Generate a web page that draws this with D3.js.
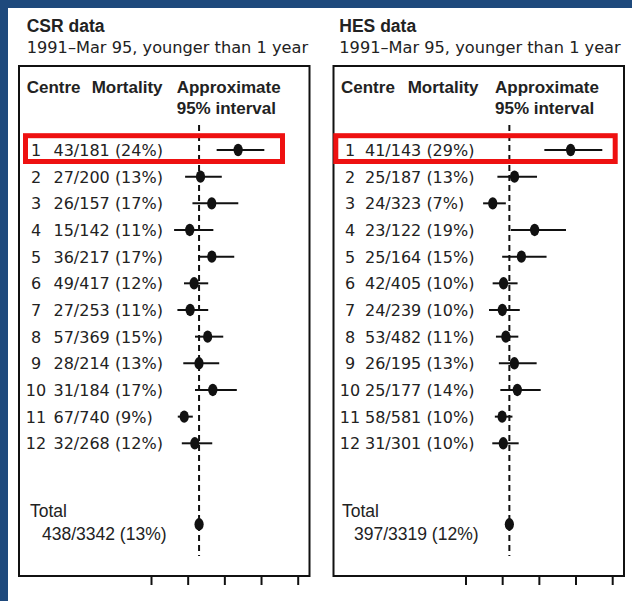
<!DOCTYPE html>
<html>
<head>
<meta charset="utf-8">
<script src="https://cdn.jsdelivr.net/npm/d3@7/dist/d3.min.js"></script>
<style>
  html, body { margin: 0; padding: 0; background: #fff; }
  svg { display: block; }
</style>
</head>
<body>
<svg id="chart" width="632" height="601"></svg>
<script>
// Paediatric cardiac surgery mortality by centre, 1991–Mar 95, under 1 year
const centres = [1, 2, 3, 4, 5, 6, 7, 8, 9, 10, 11, 12];

// CSR data: deaths, operations, stated mortality %, approximate 95% interval (%)
const csrDeaths = [43, 27, 26, 15, 36, 49, 27, 57, 28, 31, 67, 32];
const csrCases  = [181, 200, 157, 142, 217, 417, 253, 369, 214, 184, 740, 268];
const csrPct    = [24, 13, 17, 11, 17, 12, 11, 15, 13, 17, 9, 12];
const csrLow    = [17.9, 9.3, 11.3, 6.3, 12.9, 9.0, 7.2, 12.0, 8.8, 12.0, 7.3, 8.4];
const csrHigh   = [30.9, 19.3, 23.8, 17.0, 22.7, 15.6, 15.6, 19.7, 18.6, 23.4, 11.4, 16.7];
const csrTotal  = [438, 3342, 13];

// HES data
const hesDeaths = [41, 25, 24, 23, 25, 42, 24, 53, 26, 25, 58, 31];
const hesCases  = [143, 187, 323, 122, 164, 405, 239, 482, 195, 177, 581, 301];
const hesPct    = [29, 13, 7, 19, 15, 10, 10, 11, 13, 14, 10, 10];
const hesLow    = [21.5, 8.7, 4.8, 12.4, 10.0, 7.4, 6.4, 8.3, 9.1, 9.5, 8.0, 7.3];
const hesHigh   = [37.3, 19.5, 11.0, 27.4, 22.1, 14.2, 14.8, 14.4, 19.4, 20.5, 12.8, 14.5];
const hesTotal  = [397, 3319, 12];

const tickValues = [0, 10, 20, 30, 40];
const highlighted = 1;

const svg = d3.select("#chart");
const ink = "#222";

// blue frame along the top and left edges
svg.append("rect").attr("x", 0).attr("y", 0).attr("width", 632).attr("height", 8).attr("fill", "#1e497c");
svg.append("rect").attr("x", 0).attr("y", 0).attr("width", 8).attr("height", 601).attr("fill", "#1e497c");

const y = d3.scalePoint().domain(centres).range([150, 443.3]);
const yTotal = 524.3;

function panel(opts) {
  const g = svg.append("g").attr("transform", `translate(${opts.left},0)`);
  const boxW = 290.5, boxTop = 66, boxBottom = 576;
  const x = d3.scaleLinear().domain([0, 40]).range([132, 132 + 146.7]);

  g.append("text").attr("x", opts.titleX).attr("y", 31.5)
    .attr("font-family", "Liberation Sans, Arial, sans-serif").attr("font-weight", "bold")
    .attr("font-size", 17.5).attr("fill", ink).text(opts.title);
  g.append("text").attr("x", opts.titleX).attr("y", 53)
    .attr("font-family", "DejaVu Sans, sans-serif").attr("font-size", 16.2)
    .attr("fill", ink).text("1991–Mar 95, younger than 1 year");

  g.append("rect").attr("x", 0).attr("y", boxTop).attr("width", boxW)
    .attr("height", boxBottom - boxTop).attr("fill", "none")
    .attr("stroke", "#111").attr("stroke-width", 2);

  const head = g.append("g").attr("font-family", "Liberation Sans, Arial, sans-serif")
    .attr("font-weight", "bold").attr("font-size", 17).attr("fill", ink);
  head.append("text").attr("x", opts.hCentre).attr("y", 92.5).text("Centre");
  head.append("text").attr("x", opts.hMort).attr("y", 92.5).text("Mortality");
  head.append("text").attr("x", opts.hInt).attr("y", 92.5).text("Approximate");
  head.append("text").attr("x", opts.hInt).attr("y", 113.5).text("95% interval");

  // axis ticks hanging below the frame
  const axis = d3.axisBottom(x).tickValues(tickValues).tickSize(9).tickFormat("");
  const ax = g.append("g").attr("transform", `translate(0,${boxBottom})`).call(axis);
  ax.select(".domain").remove();
  ax.selectAll(".tick line").attr("stroke", "#111").attr("stroke-width", 2);

  // overall mortality reference line
  const overall = 100 * opts.total[0] / opts.total[1];
  g.append("line").attr("x1", x(overall)).attr("x2", x(overall))
    .attr("y1", 125).attr("y2", 556).attr("stroke", "#111")
    .attr("stroke-width", 2).attr("stroke-dasharray", "6,4");

  const rows = centres.map((c, i) => ({
    c, d: opts.deaths[i], n: opts.cases[i], p: opts.pct[i], lo: opts.low[i], hi: opts.high[i]
  }));

  const txt = g.append("g").attr("font-family", "DejaVu Sans, sans-serif")
    .attr("font-size", 16).attr("fill", ink);
  txt.selectAll(".num").data(rows).join("text")
    .attr("x", opts.numX).attr("y", r => y(r.c) + 6).attr("text-anchor", "middle")
    .text(r => r.c);
  txt.selectAll(".mort").data(rows).join("text")
    .attr("x", opts.mortX).attr("y", r => y(r.c) + 6)
    .text(r => `${r.d}/${r.n} (${r.p}%)`);

  g.selectAll(".ci").data(rows).join("line")
    .attr("x1", r => x(r.lo)).attr("x2", r => x(r.hi))
    .attr("y1", r => y(r.c)).attr("y2", r => y(r.c))
    .attr("stroke", "#111").attr("stroke-width", 2);
  g.selectAll(".pt").data(rows).join("ellipse")
    .attr("cx", r => x(100 * r.d / r.n)).attr("cy", r => y(r.c))
    .attr("rx", 4.6).attr("ry", 6.2).attr("fill", "#111");

  // total
  const tt = g.append("g").attr("font-family", "Liberation Sans, Arial, sans-serif")
    .attr("font-size", 17.5).attr("fill", ink);
  tt.append("text").attr("x", opts.totX).attr("y", 516.5).text("Total");
  tt.append("text").attr("x", opts.totX + 12).attr("y", 540)
    .text(`${opts.total[0]}/${opts.total[1]} (${opts.total[2]}%)`);
  g.append("ellipse").attr("cx", x(overall)).attr("cy", yTotal)
    .attr("rx", 4.6).attr("ry", 6.2).attr("fill", "#111");

  // highlight box around the outlying centre
  const hy = y(highlighted);
  g.append("rect").attr("x", opts.redX).attr("y", hy - 14.3)
    .attr("width", opts.redW).attr("height", 25.8)
    .attr("fill", "none").attr("stroke", "#ee1111").attr("stroke-width", 5);
}

panel({
  left: 19, title: "CSR data", titleX: 7.7,
  hCentre: 7.7, hMort: 72.7, hInt: 157.7,
  numX: 17, mortX: 34.5, totX: 11,
  redX: 6.5, redW: 257,
  deaths: csrDeaths, cases: csrCases, pct: csrPct, low: csrLow, high: csrHigh, total: csrTotal
});
panel({
  left: 333.5, title: "HES data", titleX: 5.8,
  hCentre: 7.5, hMort: 74.2, hInt: 161.5,
  numX: 16.5, mortX: 31.5, totX: 8.5,
  redX: 2.3, redW: 279.4,
  deaths: hesDeaths, cases: hesCases, pct: hesPct, low: hesLow, high: hesHigh, total: hesTotal
});
</script>
</body>
</html>
